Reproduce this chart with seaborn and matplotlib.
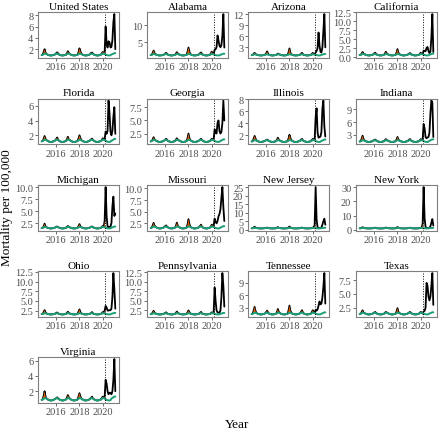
import numpy as np
import pandas as pd
import matplotlib
matplotlib.use("Agg")
import matplotlib.pyplot as plt
import seaborn as sns

sns.set_theme(style="white")
plt.rcParams["font.family"] = ["Liberation Serif", "DejaVu Serif"]

# monthly series, Oct 2014 .. Feb 2021 (one row per Oct-Sep season)
months = pd.date_range("2014-10-01", "2021-02-01", freq="MS")
covid_start = 2020 + 2 / 12  # March 2020

us_base = [
    0.98, 1.02, 1.11, 1.20, 1.19, 1.13, 1.05, 0.98, 0.93, 0.90, 0.90, 0.93,
    0.98, 1.02, 1.11, 1.20, 1.19, 1.13, 1.05, 0.98, 0.93, 0.90, 0.90, 0.93,
    0.98, 1.02, 1.11, 1.20, 1.19, 1.13, 1.05, 0.98, 0.93, 0.90, 0.90, 0.93,
    0.98, 1.02, 1.11, 1.20, 1.19, 1.13, 1.05, 0.98, 0.93, 0.90, 0.90, 0.93,
    0.98, 1.02, 1.11, 1.20, 1.19, 1.13, 1.05, 0.98, 0.93, 0.90, 0.90, 0.93,
    0.98, 1.02, 1.11, 1.20, 1.19, 1.13, 1.05, 0.98, 0.93, 0.90, 0.90, 0.93,
    1.08, 1.12, 1.21, 1.30, 1.29]
us_obs = [
    0.98, 1.02, 1.50, 2.00, 1.40, 1.15, 1.05, 0.98, 0.93, 0.90, 0.90, 0.93,
    0.98, 1.02, 1.11, 1.30, 1.45, 1.25, 1.05, 0.98, 0.93, 0.90, 0.90, 0.93,
    0.98, 1.02, 1.25, 1.65, 1.35, 1.15, 1.05, 0.98, 0.93, 0.90, 0.90, 0.93,
    0.98, 1.02, 1.45, 2.15, 1.60, 1.20, 1.05, 0.98, 0.93, 0.90, 0.90, 0.93,
    0.98, 1.02, 1.15, 1.35, 1.40, 1.20, 1.05, 0.98, 0.93, 0.90, 0.90, 0.93,
    0.98, 1.02, 1.25, 1.50, 1.40, 1.50, 6.00, 3.00, 2.30, 3.40, 3.20, 2.30,
    2.40, 3.60, 6.80, 8.20, 2.00]

al_base = [
    1.30, 1.36, 1.48, 1.60, 1.58, 1.50, 1.40, 1.30, 1.24, 1.20, 1.20, 1.24,
    1.30, 1.36, 1.48, 1.60, 1.58, 1.50, 1.40, 1.30, 1.24, 1.20, 1.20, 1.24,
    1.30, 1.36, 1.48, 1.60, 1.58, 1.50, 1.40, 1.30, 1.24, 1.20, 1.20, 1.24,
    1.30, 1.36, 1.48, 1.60, 1.58, 1.50, 1.40, 1.30, 1.24, 1.20, 1.20, 1.24,
    1.30, 1.36, 1.48, 1.60, 1.58, 1.50, 1.40, 1.30, 1.24, 1.20, 1.20, 1.24,
    1.30, 1.36, 1.48, 1.60, 1.58, 1.50, 1.40, 1.30, 1.24, 1.20, 1.20, 1.24,
    1.40, 1.46, 1.58, 1.70, 1.68]
al_obs = [
    1.30, 1.36, 1.90, 2.60, 1.90, 1.55, 1.40, 1.30, 1.24, 1.20, 1.20, 1.24,
    1.30, 1.36, 1.48, 1.75, 1.95, 1.60, 1.40, 1.30, 1.24, 1.20, 1.20, 1.24,
    1.30, 1.36, 1.70, 2.15, 1.75, 1.55, 1.40, 1.30, 1.24, 1.20, 1.20, 1.24,
    1.30, 1.36, 2.20, 3.50, 2.30, 1.60, 1.40, 1.30, 1.24, 1.20, 1.20, 1.24,
    1.30, 1.36, 1.60, 1.85, 2.05, 1.65, 1.40, 1.30, 1.24, 1.20, 1.20, 1.24,
    1.30, 1.36, 1.75, 2.30, 1.80, 1.70, 2.80, 3.00, 3.60, 7.00, 5.50, 4.00,
    3.60, 4.20, 7.00, 13.20, 3.50]

az_base = [
    0.88, 0.92, 1.01, 1.10, 1.09, 1.03, 0.95, 0.88, 0.83, 0.80, 0.80, 0.83,
    0.88, 0.92, 1.01, 1.10, 1.09, 1.03, 0.95, 0.88, 0.83, 0.80, 0.80, 0.83,
    0.88, 0.92, 1.01, 1.10, 1.09, 1.03, 0.95, 0.88, 0.83, 0.80, 0.80, 0.83,
    0.88, 0.92, 1.01, 1.10, 1.09, 1.03, 0.95, 0.88, 0.83, 0.80, 0.80, 0.83,
    0.88, 0.92, 1.01, 1.10, 1.09, 1.03, 0.95, 0.88, 0.83, 0.80, 0.80, 0.83,
    0.88, 0.92, 1.01, 1.10, 1.09, 1.03, 0.95, 0.88, 0.83, 0.80, 0.80, 0.83,
    0.98, 1.02, 1.11, 1.20, 1.19]
az_obs = [
    0.88, 0.92, 1.20, 1.50, 1.15, 1.05, 0.95, 0.88, 0.83, 0.80, 0.80, 0.83,
    0.88, 0.92, 1.01, 1.40, 1.90, 1.20, 0.95, 0.88, 0.83, 0.80, 0.80, 0.83,
    0.88, 0.92, 1.05, 1.30, 1.15, 1.05, 0.95, 0.88, 0.83, 0.80, 0.80, 0.83,
    0.88, 0.92, 1.60, 2.70, 1.50, 1.10, 0.95, 0.88, 0.83, 0.80, 0.80, 0.83,
    0.88, 0.92, 1.01, 1.30, 1.50, 1.10, 0.95, 0.88, 0.83, 0.80, 0.80, 0.83,
    0.88, 0.92, 1.15, 1.50, 1.20, 1.05, 1.60, 2.00, 2.80, 7.00, 3.50, 1.80,
    1.60, 3.00, 7.50, 12.00, 3.00]

ca_base = [
    0.66, 0.71, 0.82, 0.93, 0.91, 0.84, 0.75, 0.66, 0.60, 0.55, 0.55, 0.60,
    0.66, 0.71, 0.82, 0.93, 0.91, 0.84, 0.75, 0.66, 0.60, 0.55, 0.55, 0.60,
    0.66, 0.71, 0.82, 0.93, 0.91, 0.84, 0.75, 0.66, 0.60, 0.55, 0.55, 0.60,
    0.66, 0.71, 0.82, 0.93, 0.91, 0.84, 0.75, 0.66, 0.60, 0.55, 0.55, 0.60,
    0.66, 0.71, 0.82, 0.93, 0.91, 0.84, 0.75, 0.66, 0.60, 0.55, 0.55, 0.60,
    0.66, 0.71, 0.82, 0.93, 0.91, 0.84, 0.75, 0.66, 0.60, 0.55, 0.55, 0.60,
    0.76, 0.81, 0.92, 1.03, 1.01]
ca_obs = [
    0.66, 0.71, 1.05, 1.50, 1.05, 0.88, 0.75, 0.66, 0.60, 0.55, 0.55, 0.60,
    0.66, 0.71, 0.85, 1.10, 1.30, 0.95, 0.75, 0.66, 0.60, 0.55, 0.55, 0.60,
    0.66, 0.71, 1.05, 1.55, 1.05, 0.88, 0.75, 0.66, 0.60, 0.55, 0.55, 0.60,
    0.66, 0.71, 1.30, 2.30, 1.30, 0.90, 0.75, 0.66, 0.60, 0.55, 0.55, 0.60,
    0.66, 0.71, 0.85, 1.05, 1.20, 0.90, 0.75, 0.66, 0.60, 0.55, 0.55, 0.60,
    0.66, 0.71, 0.95, 1.30, 1.00, 0.90, 1.90, 1.80, 1.70, 2.60, 2.90, 1.80,
    1.20, 1.60, 5.50, 12.00, 1.50]

fl_base = [
    1.18, 1.22, 1.31, 1.40, 1.39, 1.33, 1.25, 1.18, 1.13, 1.10, 1.10, 1.13,
    1.18, 1.22, 1.31, 1.40, 1.39, 1.33, 1.25, 1.18, 1.13, 1.10, 1.10, 1.13,
    1.18, 1.22, 1.31, 1.40, 1.39, 1.33, 1.25, 1.18, 1.13, 1.10, 1.10, 1.13,
    1.18, 1.22, 1.31, 1.40, 1.39, 1.33, 1.25, 1.18, 1.13, 1.10, 1.10, 1.13,
    1.18, 1.22, 1.31, 1.40, 1.39, 1.33, 1.25, 1.18, 1.13, 1.10, 1.10, 1.13,
    1.18, 1.22, 1.31, 1.40, 1.39, 1.33, 1.25, 1.18, 1.13, 1.10, 1.10, 1.13,
    1.28, 1.32, 1.41, 1.50, 1.49]
fl_obs = [
    1.18, 1.22, 1.50, 1.90, 1.50, 1.35, 1.25, 1.18, 1.13, 1.10, 1.10, 1.13,
    1.18, 1.22, 1.31, 1.50, 1.70, 1.40, 1.25, 1.18, 1.13, 1.10, 1.10, 1.13,
    1.18, 1.22, 1.45, 1.80, 1.45, 1.35, 1.25, 1.18, 1.13, 1.10, 1.10, 1.13,
    1.18, 1.22, 1.55, 2.00, 1.60, 1.35, 1.25, 1.18, 1.13, 1.10, 1.10, 1.13,
    1.18, 1.22, 1.31, 1.45, 1.55, 1.35, 1.25, 1.18, 1.13, 1.10, 1.10, 1.13,
    1.18, 1.22, 1.35, 1.60, 1.45, 1.50, 2.50, 2.20, 2.60, 6.70, 5.00, 2.50,
    2.00, 2.60, 4.50, 5.80, 2.20]

ga_base = [
    1.00, 1.06, 1.18, 1.30, 1.28, 1.20, 1.10, 1.00, 0.94, 0.90, 0.90, 0.94,
    1.00, 1.06, 1.18, 1.30, 1.28, 1.20, 1.10, 1.00, 0.94, 0.90, 0.90, 0.94,
    1.00, 1.06, 1.18, 1.30, 1.28, 1.20, 1.10, 1.00, 0.94, 0.90, 0.90, 0.94,
    1.00, 1.06, 1.18, 1.30, 1.28, 1.20, 1.10, 1.00, 0.94, 0.90, 0.90, 0.94,
    1.00, 1.06, 1.18, 1.30, 1.28, 1.20, 1.10, 1.00, 0.94, 0.90, 0.90, 0.94,
    1.00, 1.06, 1.18, 1.30, 1.28, 1.20, 1.10, 1.00, 0.94, 0.90, 0.90, 0.94,
    1.10, 1.16, 1.28, 1.40, 1.38]
ga_obs = [
    1.00, 1.06, 1.35, 1.80, 1.35, 1.22, 1.10, 1.00, 0.94, 0.90, 0.90, 0.94,
    1.00, 1.06, 1.18, 1.35, 1.50, 1.25, 1.10, 1.00, 0.94, 0.90, 0.90, 0.94,
    1.00, 1.06, 1.30, 1.60, 1.35, 1.22, 1.10, 1.00, 0.94, 0.90, 0.90, 0.94,
    1.00, 1.06, 1.60, 2.50, 1.60, 1.25, 1.10, 1.00, 0.94, 0.90, 0.90, 0.94,
    1.00, 1.06, 1.18, 1.35, 1.50, 1.25, 1.10, 1.00, 0.94, 0.90, 0.90, 0.94,
    1.00, 1.06, 1.25, 1.50, 1.35, 1.50, 3.30, 2.60, 2.50, 4.50, 5.00, 3.00,
    2.50, 2.80, 4.50, 8.80, 5.00]

il_base = [
    0.98, 1.02, 1.11, 1.20, 1.19, 1.13, 1.05, 0.98, 0.93, 0.90, 0.90, 0.93,
    0.98, 1.02, 1.11, 1.20, 1.19, 1.13, 1.05, 0.98, 0.93, 0.90, 0.90, 0.93,
    0.98, 1.02, 1.11, 1.20, 1.19, 1.13, 1.05, 0.98, 0.93, 0.90, 0.90, 0.93,
    0.98, 1.02, 1.11, 1.20, 1.19, 1.13, 1.05, 0.98, 0.93, 0.90, 0.90, 0.93,
    0.98, 1.02, 1.11, 1.20, 1.19, 1.13, 1.05, 0.98, 0.93, 0.90, 0.90, 0.93,
    0.98, 1.02, 1.11, 1.20, 1.19, 1.13, 1.05, 0.98, 0.93, 0.90, 0.90, 0.93,
    1.08, 1.12, 1.21, 1.30, 1.29]
il_obs = [
    0.98, 1.02, 1.45, 1.90, 1.45, 1.15, 1.05, 0.98, 0.93, 0.90, 0.90, 0.93,
    0.98, 1.02, 1.11, 1.20, 1.30, 1.15, 1.05, 0.98, 0.93, 0.90, 0.90, 0.93,
    0.98, 1.02, 1.25, 1.60, 1.30, 1.13, 1.05, 0.98, 0.93, 0.90, 0.90, 0.93,
    0.98, 1.02, 1.45, 2.10, 1.55, 1.20, 1.05, 0.98, 0.93, 0.90, 0.90, 0.93,
    0.98, 1.02, 1.11, 1.30, 1.40, 1.15, 1.05, 0.98, 0.93, 0.90, 0.90, 0.93,
    0.98, 1.02, 1.20, 1.40, 1.30, 1.30, 5.00, 6.50, 2.50, 1.60, 1.70, 1.80,
    2.60, 6.50, 7.80, 3.50, 1.80]

in_base = [
    1.45, 1.51, 1.63, 1.75, 1.73, 1.65, 1.55, 1.45, 1.39, 1.35, 1.35, 1.39,
    1.45, 1.51, 1.63, 1.75, 1.73, 1.65, 1.55, 1.45, 1.39, 1.35, 1.35, 1.39,
    1.45, 1.51, 1.63, 1.75, 1.73, 1.65, 1.55, 1.45, 1.39, 1.35, 1.35, 1.39,
    1.45, 1.51, 1.63, 1.75, 1.73, 1.65, 1.55, 1.45, 1.39, 1.35, 1.35, 1.39,
    1.45, 1.51, 1.63, 1.75, 1.73, 1.65, 1.55, 1.45, 1.39, 1.35, 1.35, 1.39,
    1.45, 1.51, 1.63, 1.75, 1.73, 1.65, 1.55, 1.45, 1.39, 1.35, 1.35, 1.39,
    1.65, 1.71, 1.83, 1.95, 1.93]
in_obs = [
    1.45, 1.51, 2.10, 2.80, 2.00, 1.70, 1.55, 1.45, 1.39, 1.35, 1.35, 1.39,
    1.45, 1.51, 1.63, 1.80, 1.90, 1.70, 1.55, 1.45, 1.39, 1.35, 1.35, 1.39,
    1.45, 1.51, 1.75, 2.00, 1.80, 1.65, 1.55, 1.45, 1.39, 1.35, 1.35, 1.39,
    1.45, 1.51, 1.90, 2.50, 1.90, 1.70, 1.55, 1.45, 1.39, 1.35, 1.35, 1.39,
    1.45, 1.51, 1.63, 1.90, 2.00, 1.70, 1.55, 1.45, 1.39, 1.35, 1.35, 1.39,
    1.45, 1.51, 1.70, 2.00, 1.80, 2.00, 5.50, 4.50, 2.50, 2.20, 2.40, 2.50,
    3.50, 8.00, 11.00, 10.50, 2.50]

mi_base = [
    1.48, 1.52, 1.61, 1.70, 1.69, 1.63, 1.55, 1.48, 1.43, 1.40, 1.40, 1.43,
    1.48, 1.52, 1.61, 1.70, 1.69, 1.63, 1.55, 1.48, 1.43, 1.40, 1.40, 1.43,
    1.48, 1.52, 1.61, 1.70, 1.69, 1.63, 1.55, 1.48, 1.43, 1.40, 1.40, 1.43,
    1.48, 1.52, 1.61, 1.70, 1.69, 1.63, 1.55, 1.48, 1.43, 1.40, 1.40, 1.43,
    1.48, 1.52, 1.61, 1.70, 1.69, 1.63, 1.55, 1.48, 1.43, 1.40, 1.40, 1.43,
    1.48, 1.52, 1.61, 1.70, 1.69, 1.63, 1.55, 1.48, 1.43, 1.40, 1.40, 1.43,
    1.58, 1.62, 1.71, 1.80, 1.79]
mi_obs = [
    1.48, 1.52, 1.80, 2.40, 1.75, 1.63, 1.55, 1.48, 1.43, 1.40, 1.40, 1.43,
    1.48, 1.52, 1.61, 1.75, 1.80, 1.65, 1.55, 1.48, 1.43, 1.40, 1.40, 1.43,
    1.48, 1.52, 1.70, 1.90, 1.75, 1.63, 1.55, 1.48, 1.43, 1.40, 1.40, 1.43,
    1.48, 1.52, 1.85, 2.30, 1.80, 1.65, 1.55, 1.48, 1.43, 1.40, 1.40, 1.43,
    1.48, 1.52, 1.61, 1.75, 1.80, 1.65, 1.55, 1.48, 1.43, 1.40, 1.40, 1.43,
    1.48, 1.52, 1.70, 1.90, 1.75, 3.00, 10.00, 4.00, 1.80, 1.60, 1.70, 1.80,
    2.50, 6.00, 8.00, 4.00, 4.50]

mo_base = [
    1.50, 1.56, 1.68, 1.80, 1.78, 1.70, 1.60, 1.50, 1.44, 1.40, 1.40, 1.44,
    1.50, 1.56, 1.68, 1.80, 1.78, 1.70, 1.60, 1.50, 1.44, 1.40, 1.40, 1.44,
    1.50, 1.56, 1.68, 1.80, 1.78, 1.70, 1.60, 1.50, 1.44, 1.40, 1.40, 1.44,
    1.50, 1.56, 1.68, 1.80, 1.78, 1.70, 1.60, 1.50, 1.44, 1.40, 1.40, 1.44,
    1.50, 1.56, 1.68, 1.80, 1.78, 1.70, 1.60, 1.50, 1.44, 1.40, 1.40, 1.44,
    1.50, 1.56, 1.68, 1.80, 1.78, 1.70, 1.60, 1.50, 1.44, 1.40, 1.40, 1.44,
    1.60, 1.66, 1.78, 1.90, 1.88]
mo_obs = [
    1.50, 1.56, 2.00, 2.60, 2.00, 1.75, 1.60, 1.50, 1.44, 1.40, 1.40, 1.44,
    1.50, 1.56, 1.68, 1.90, 2.05, 1.75, 1.60, 1.50, 1.44, 1.40, 1.40, 1.44,
    1.50, 1.56, 1.90, 2.65, 1.95, 1.72, 1.60, 1.50, 1.44, 1.40, 1.40, 1.44,
    1.50, 1.56, 2.20, 3.40, 2.30, 1.75, 1.60, 1.50, 1.44, 1.40, 1.40, 1.44,
    1.50, 1.56, 1.70, 1.95, 2.20, 1.75, 1.60, 1.50, 1.44, 1.40, 1.40, 1.44,
    1.50, 1.56, 1.80, 2.20, 1.95, 2.00, 3.50, 2.80, 2.50, 3.00, 4.00, 4.50,
    5.50, 8.00, 10.30, 6.00, 3.00]

nj_base = [
    0.88, 0.92, 1.01, 1.10, 1.09, 1.03, 0.95, 0.88, 0.83, 0.80, 0.80, 0.83,
    0.88, 0.92, 1.01, 1.10, 1.09, 1.03, 0.95, 0.88, 0.83, 0.80, 0.80, 0.83,
    0.88, 0.92, 1.01, 1.10, 1.09, 1.03, 0.95, 0.88, 0.83, 0.80, 0.80, 0.83,
    0.88, 0.92, 1.01, 1.10, 1.09, 1.03, 0.95, 0.88, 0.83, 0.80, 0.80, 0.83,
    0.88, 0.92, 1.01, 1.10, 1.09, 1.03, 0.95, 0.88, 0.83, 0.80, 0.80, 0.83,
    0.88, 0.92, 1.01, 1.10, 1.09, 1.03, 0.95, 0.88, 0.83, 0.80, 0.80, 0.83,
    0.98, 1.02, 1.11, 1.20, 1.19]
nj_obs = [
    0.88, 0.92, 1.30, 1.80, 1.25, 1.05, 0.95, 0.88, 0.83, 0.80, 0.80, 0.83,
    0.88, 0.92, 1.01, 1.15, 1.30, 1.05, 0.95, 0.88, 0.83, 0.80, 0.80, 0.83,
    0.88, 0.92, 1.15, 1.60, 1.20, 1.05, 0.95, 0.88, 0.83, 0.80, 0.80, 0.83,
    0.88, 0.92, 1.35, 1.90, 1.35, 1.05, 0.95, 0.88, 0.83, 0.80, 0.80, 0.83,
    0.88, 0.92, 1.01, 1.20, 1.30, 1.05, 0.95, 0.88, 0.83, 0.80, 0.80, 0.83,
    0.88, 0.92, 1.10, 1.30, 1.20, 3.00, 25.00, 6.00, 1.50, 1.10, 1.00, 1.00,
    1.30, 3.00, 5.00, 6.50, 3.00]

ny_base = [
    1.03, 1.07, 1.16, 1.25, 1.24, 1.18, 1.10, 1.03, 0.98, 0.95, 0.95, 0.98,
    1.03, 1.07, 1.16, 1.25, 1.24, 1.18, 1.10, 1.03, 0.98, 0.95, 0.95, 0.98,
    1.03, 1.07, 1.16, 1.25, 1.24, 1.18, 1.10, 1.03, 0.98, 0.95, 0.95, 0.98,
    1.03, 1.07, 1.16, 1.25, 1.24, 1.18, 1.10, 1.03, 0.98, 0.95, 0.95, 0.98,
    1.03, 1.07, 1.16, 1.25, 1.24, 1.18, 1.10, 1.03, 0.98, 0.95, 0.95, 0.98,
    1.03, 1.07, 1.16, 1.25, 1.24, 1.18, 1.10, 1.03, 0.98, 0.95, 0.95, 0.98,
    1.13, 1.17, 1.26, 1.35, 1.34]
ny_obs = [
    1.03, 1.07, 1.40, 1.80, 1.40, 1.20, 1.10, 1.03, 0.98, 0.95, 0.95, 0.98,
    1.03, 1.07, 1.16, 1.35, 1.50, 1.20, 1.10, 1.03, 0.98, 0.95, 0.95, 0.98,
    1.03, 1.07, 1.30, 1.60, 1.35, 1.20, 1.10, 1.03, 0.98, 0.95, 0.95, 0.98,
    1.03, 1.07, 1.45, 1.90, 1.45, 1.20, 1.10, 1.03, 0.98, 0.95, 0.95, 0.98,
    1.03, 1.07, 1.16, 1.35, 1.50, 1.20, 1.10, 1.03, 0.98, 0.95, 0.95, 0.98,
    1.03, 1.07, 1.25, 1.50, 1.35, 4.50, 30.00, 8.00, 2.00, 1.30, 1.20, 1.20,
    1.40, 2.50, 5.00, 7.50, 3.00]

oh_base = [
    1.58, 1.62, 1.71, 1.80, 1.79, 1.73, 1.65, 1.58, 1.53, 1.50, 1.50, 1.53,
    1.58, 1.62, 1.71, 1.80, 1.79, 1.73, 1.65, 1.58, 1.53, 1.50, 1.50, 1.53,
    1.58, 1.62, 1.71, 1.80, 1.79, 1.73, 1.65, 1.58, 1.53, 1.50, 1.50, 1.53,
    1.58, 1.62, 1.71, 1.80, 1.79, 1.73, 1.65, 1.58, 1.53, 1.50, 1.50, 1.53,
    1.58, 1.62, 1.71, 1.80, 1.79, 1.73, 1.65, 1.58, 1.53, 1.50, 1.50, 1.53,
    1.58, 1.62, 1.71, 1.80, 1.79, 1.73, 1.65, 1.58, 1.53, 1.50, 1.50, 1.53,
    1.68, 1.72, 1.81, 1.90, 1.89]
oh_obs = [
    1.58, 1.62, 2.10, 2.60, 2.00, 1.75, 1.65, 1.58, 1.53, 1.50, 1.50, 1.53,
    1.58, 1.62, 1.71, 1.90, 2.00, 1.75, 1.65, 1.58, 1.53, 1.50, 1.50, 1.53,
    1.58, 1.62, 1.90, 2.20, 1.90, 1.75, 1.65, 1.58, 1.53, 1.50, 1.50, 1.53,
    1.58, 1.62, 2.20, 2.80, 2.10, 1.75, 1.65, 1.58, 1.53, 1.50, 1.50, 1.53,
    1.58, 1.62, 1.71, 1.90, 2.10, 1.75, 1.65, 1.58, 1.53, 1.50, 1.50, 1.53,
    1.58, 1.62, 1.80, 2.10, 1.90, 2.50, 3.70, 3.30, 2.50, 2.50, 2.60, 2.60,
    3.00, 6.00, 12.20, 8.00, 3.00]

pa_base = [
    1.53, 1.57, 1.66, 1.75, 1.74, 1.68, 1.60, 1.53, 1.48, 1.45, 1.45, 1.48,
    1.53, 1.57, 1.66, 1.75, 1.74, 1.68, 1.60, 1.53, 1.48, 1.45, 1.45, 1.48,
    1.53, 1.57, 1.66, 1.75, 1.74, 1.68, 1.60, 1.53, 1.48, 1.45, 1.45, 1.48,
    1.53, 1.57, 1.66, 1.75, 1.74, 1.68, 1.60, 1.53, 1.48, 1.45, 1.45, 1.48,
    1.53, 1.57, 1.66, 1.75, 1.74, 1.68, 1.60, 1.53, 1.48, 1.45, 1.45, 1.48,
    1.53, 1.57, 1.66, 1.75, 1.74, 1.68, 1.60, 1.53, 1.48, 1.45, 1.45, 1.48,
    1.63, 1.67, 1.76, 1.85, 1.84]
pa_obs = [
    1.53, 1.57, 1.95, 2.40, 1.90, 1.70, 1.60, 1.53, 1.48, 1.45, 1.45, 1.48,
    1.53, 1.57, 1.66, 1.85, 2.00, 1.70, 1.60, 1.53, 1.48, 1.45, 1.45, 1.48,
    1.53, 1.57, 1.85, 2.20, 1.85, 1.70, 1.60, 1.53, 1.48, 1.45, 1.45, 1.48,
    1.53, 1.57, 2.00, 2.50, 2.00, 1.70, 1.60, 1.53, 1.48, 1.45, 1.45, 1.48,
    1.53, 1.57, 1.66, 1.90, 2.10, 1.70, 1.60, 1.53, 1.48, 1.45, 1.45, 1.48,
    1.53, 1.57, 1.75, 2.00, 1.85, 2.00, 8.50, 5.00, 2.50, 2.00, 1.90, 1.90,
    2.50, 6.00, 12.30, 9.00, 3.50]

tn_base = [
    1.50, 1.56, 1.68, 1.80, 1.78, 1.70, 1.60, 1.50, 1.44, 1.40, 1.40, 1.44,
    1.50, 1.56, 1.68, 1.80, 1.78, 1.70, 1.60, 1.50, 1.44, 1.40, 1.40, 1.44,
    1.50, 1.56, 1.68, 1.80, 1.78, 1.70, 1.60, 1.50, 1.44, 1.40, 1.40, 1.44,
    1.50, 1.56, 1.68, 1.80, 1.78, 1.70, 1.60, 1.50, 1.44, 1.40, 1.40, 1.44,
    1.50, 1.56, 1.68, 1.80, 1.78, 1.70, 1.60, 1.50, 1.44, 1.40, 1.40, 1.44,
    1.50, 1.56, 1.68, 1.80, 1.78, 1.70, 1.60, 1.50, 1.44, 1.40, 1.40, 1.44,
    1.60, 1.66, 1.78, 1.90, 1.88]
tn_obs = [
    1.50, 1.56, 2.30, 3.20, 2.20, 1.75, 1.60, 1.50, 1.44, 1.40, 1.40, 1.44,
    1.50, 1.56, 1.68, 2.00, 2.30, 1.80, 1.60, 1.50, 1.44, 1.40, 1.40, 1.44,
    1.50, 1.56, 1.90, 2.70, 2.00, 1.75, 1.60, 1.50, 1.44, 1.40, 1.40, 1.44,
    1.50, 1.56, 2.30, 3.50, 2.30, 1.75, 1.60, 1.50, 1.44, 1.40, 1.40, 1.44,
    1.50, 1.56, 1.70, 2.05, 2.40, 1.80, 1.60, 1.50, 1.44, 1.40, 1.40, 1.44,
    1.50, 1.56, 1.90, 2.40, 2.00, 1.80, 2.50, 2.30, 2.60, 3.50, 4.50, 3.80,
    4.00, 5.50, 8.00, 11.30, 4.00]

tx_base = [
    1.33, 1.37, 1.46, 1.55, 1.54, 1.48, 1.40, 1.33, 1.28, 1.25, 1.25, 1.28,
    1.33, 1.37, 1.46, 1.55, 1.54, 1.48, 1.40, 1.33, 1.28, 1.25, 1.25, 1.28,
    1.33, 1.37, 1.46, 1.55, 1.54, 1.48, 1.40, 1.33, 1.28, 1.25, 1.25, 1.28,
    1.33, 1.37, 1.46, 1.55, 1.54, 1.48, 1.40, 1.33, 1.28, 1.25, 1.25, 1.28,
    1.33, 1.37, 1.46, 1.55, 1.54, 1.48, 1.40, 1.33, 1.28, 1.25, 1.25, 1.28,
    1.33, 1.37, 1.46, 1.55, 1.54, 1.48, 1.40, 1.33, 1.28, 1.25, 1.25, 1.28,
    1.43, 1.47, 1.56, 1.65, 1.64]
tx_obs = [
    1.33, 1.37, 1.65, 2.00, 1.60, 1.50, 1.40, 1.33, 1.28, 1.25, 1.25, 1.28,
    1.33, 1.37, 1.46, 1.60, 1.70, 1.50, 1.40, 1.33, 1.28, 1.25, 1.25, 1.28,
    1.33, 1.37, 1.55, 1.70, 1.60, 1.50, 1.40, 1.33, 1.28, 1.25, 1.25, 1.28,
    1.33, 1.37, 1.75, 2.40, 1.70, 1.50, 1.40, 1.33, 1.28, 1.25, 1.25, 1.28,
    1.33, 1.37, 1.46, 1.60, 1.70, 1.50, 1.40, 1.33, 1.28, 1.25, 1.25, 1.28,
    1.33, 1.37, 1.55, 1.70, 1.60, 1.40, 1.80, 1.90, 2.50, 7.00, 6.50, 4.50,
    3.80, 4.50, 6.50, 8.80, 3.00]

va_base = [
    0.88, 0.92, 1.01, 1.10, 1.09, 1.03, 0.95, 0.88, 0.83, 0.80, 0.80, 0.83,
    0.88, 0.92, 1.01, 1.10, 1.09, 1.03, 0.95, 0.88, 0.83, 0.80, 0.80, 0.83,
    0.88, 0.92, 1.01, 1.10, 1.09, 1.03, 0.95, 0.88, 0.83, 0.80, 0.80, 0.83,
    0.88, 0.92, 1.01, 1.10, 1.09, 1.03, 0.95, 0.88, 0.83, 0.80, 0.80, 0.83,
    0.88, 0.92, 1.01, 1.10, 1.09, 1.03, 0.95, 0.88, 0.83, 0.80, 0.80, 0.83,
    0.88, 0.92, 1.01, 1.10, 1.09, 1.03, 0.95, 0.88, 0.83, 0.80, 0.80, 0.83,
    1.05, 1.12, 1.22, 1.30, 1.30]
va_obs = [
    0.88, 0.92, 1.40, 2.00, 1.30, 1.05, 0.95, 0.88, 0.83, 0.80, 0.80, 0.83,
    0.88, 0.92, 1.01, 1.10, 1.20, 1.05, 0.95, 0.88, 0.83, 0.80, 0.80, 0.83,
    0.88, 0.92, 1.15, 1.50, 1.20, 1.05, 0.95, 0.88, 0.83, 0.80, 0.80, 0.83,
    0.88, 0.92, 1.30, 1.75, 1.30, 1.05, 0.95, 0.88, 0.83, 0.80, 0.80, 0.83,
    0.88, 0.92, 1.01, 1.15, 1.30, 1.05, 0.95, 0.88, 0.83, 0.80, 0.80, 0.83,
    0.88, 0.92, 1.10, 1.30, 1.20, 1.30, 3.50, 3.00, 2.00, 1.60, 1.80, 1.80,
    1.60, 2.00, 3.50, 6.20, 2.00]

# (title, expected, observed, y ticks, decimals)
panels = [
    ("United States", us_base, us_obs, [2, 4, 6, 8], 0),
    ("Alabama", al_base, al_obs, [5, 10], 0),
    ("Arizona", az_base, az_obs, [3, 6, 9, 12], 0),
    ("California", ca_base, ca_obs, [0, 2.5, 5, 7.5, 10, 12.5], 1),
    ("Florida", fl_base, fl_obs, [2, 4, 6], 0),
    ("Georgia", ga_base, ga_obs, [2.5, 5, 7.5], 1),
    ("Illinois", il_base, il_obs, [2, 4, 6, 8], 0),
    ("Indiana", in_base, in_obs, [3, 6, 9], 0),
    ("Michigan", mi_base, mi_obs, [2.5, 5, 7.5, 10], 1),
    ("Missouri", mo_base, mo_obs, [2.5, 5, 7.5, 10], 1),
    ("New Jersey", nj_base, nj_obs, [0, 5, 10, 15, 20, 25], 0),
    ("New York", ny_base, ny_obs, [0, 10, 20, 30], 0),
    ("Ohio", oh_base, oh_obs, [2.5, 5, 7.5, 10, 12.5], 1),
    ("Pennsylvania", pa_base, pa_obs, [2.5, 5, 7.5, 10, 12.5], 1),
    ("Tennessee", tn_base, tn_obs, [3, 6, 9, 12], 0),
    ("Texas", tx_base, tx_obs, [2.5, 5, 7.5], 1),
    ("Virginia", va_base, va_obs, [2, 4, 6], 0),
]

t = np.asarray(months.year + (months.month - 1) / 12, dtype=float)

W, H = 440, 431
fig = plt.figure(figsize=(W / 100, H / 100), dpi=100)
col_left = [38, 147, 248, 356]
row_top = [13, 99.5, 186, 272, 358]
pw, ph = 81, 45.5

GREY_TXT = "#4d4d4d"
for i, (name, base, obs, yticks, dec) in enumerate(panels):
    r, c = divmod(i, 4)
    ax = fig.add_axes([col_left[c] / W, 1 - (row_top[r] + ph) / H, pw / W, ph / H])
    base = np.asarray(base)
    obs = np.asarray(obs)

    sns.lineplot(x=t, y=obs, ax=ax, color="black", linewidth=1.3, zorder=2)
    ax.fill_between(t, base, obs, where=(obs > base) & (t <= covid_start + 1e-9),
                    color="#D95F02", linewidth=0, interpolate=True, zorder=2.2)
    sns.lineplot(x=t, y=base, ax=ax, color="#1B9E77", linewidth=1.4, zorder=2.4)
    ax.axvline(covid_start, color="black", linestyle=(0, (1, 1.6)), linewidth=0.7,
               zorder=2.5)

    ax.margins(x=0.05, y=0.05)
    ax.autoscale_view()
    lo, hi = ax.get_ylim()
    shown = [v for v in yticks if lo <= v <= hi]
    ax.set_yticks(shown)
    ax.set_yticklabels([f"{v:.{dec}f}" for v in shown])
    ax.set_ylim(lo, hi)
    ax.set_xticks([2016, 2018, 2020])
    ax.set_xticklabels(["2016", "2018", "2020"])
    ax.set_xlabel("")
    ax.set_ylabel("")
    ax.set_title(name, fontsize=8, pad=2.5, color="black")
    ax.tick_params(axis="both", labelsize=7.4, colors="#555555", labelcolor=GREY_TXT,
                   length=2.2, width=0.6, pad=1.2, direction="out",
                   bottom=True, left=True)
    for sp in ax.spines.values():
        sp.set_color("#7f7f7f")
        sp.set_linewidth(0.8)
    ax.grid(False)
    ax.set_facecolor("white")

fig.text(0.016, 1 - 208 / H, "Mortality per 100,000", rotation=90,
         ha="center", va="center", fontsize=9.5, color="black")
fig.text(237 / W, 1 - 425 / H, "Year", ha="center", va="center",
         fontsize=9.5, color="black")

fig.savefig("out.png", dpi=100, facecolor="white")
